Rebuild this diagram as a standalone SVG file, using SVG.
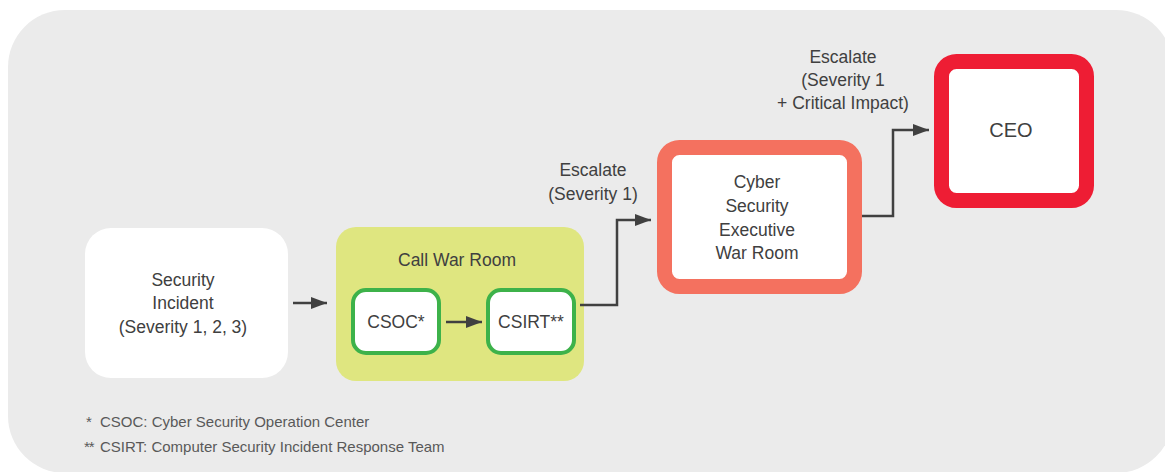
<svg xmlns="http://www.w3.org/2000/svg" width="1165" height="472" viewBox="0 0 1165 472">
<defs>
<style>
.t{font-family:"Liberation Sans",Arial,sans-serif;font-size:17.5px;fill:#404040;text-anchor:middle}
.fn{font-family:"Liberation Sans",Arial,sans-serif;font-size:15px;fill:#595959}
.c{fill:none;stroke:#404040;stroke-width:2.5}
</style>
<marker id="ah" markerUnits="userSpaceOnUse" markerWidth="16" markerHeight="12" refX="16" refY="6" orient="auto">
<path d="M0,0 L16,6 L0,12 z" fill="#404040"/>
</marker>
</defs>
<rect x="8" y="10" width="1165" height="463" rx="57" fill="#ebebeb"/>
<g id="security-incident">
<rect x="85" y="228" width="203" height="150" rx="26" fill="#ffffff"/>
<text class="t" x="183" y="286">Security</text>
<text class="t" x="183" y="309">Incident</text>
<text class="t" x="183" y="333">(Severity 1, 2, 3)</text>
</g>
<g id="call-war-room">
<rect x="336" y="227" width="248" height="154" rx="20" fill="#dfe680"/>
<text class="t" x="457" y="266">Call War Room</text>
</g>
<g id="csoc">
<rect x="353" y="290" width="86" height="63" rx="13" fill="#ffffff" stroke="#3db24a" stroke-width="4"/>
<text class="t" x="396" y="328">CSOC*</text>
</g>
<g id="csirt">
<rect x="488" y="290" width="86" height="63" rx="13" fill="#ffffff" stroke="#3db24a" stroke-width="4"/>
<text class="t" x="531" y="328">CSIRT**</text>
</g>
<g id="exec-war-room">
<rect x="664.5" y="147.5" width="190" height="139" rx="15" fill="#ffffff" stroke="#f4715f" stroke-width="15"/>
<text class="t" x="757" y="188">Cyber</text>
<text class="t" x="757" y="212">Security</text>
<text class="t" x="757" y="236">Executive</text>
<text class="t" x="757" y="259">War Room</text>
</g>
<g id="ceo">
<rect x="941.5" y="61.5" width="145" height="139" rx="15" fill="#ffffff" stroke="#ee1d34" stroke-width="15"/>
<text class="t" x="1011" y="137" style="font-size:20px">CEO</text>
</g>
<g id="connectors">
<path class="c" d="M293,303 H327" marker-end="url(#ah)"/>
<path class="c" d="M446,322 H482" marker-end="url(#ah)"/>
<path class="c" d="M580,305 H617 V220 H651" marker-end="url(#ah)"/>
<path class="c" d="M862,216 H893 V130 H929" marker-end="url(#ah)"/>
</g>
<g id="labels">
<text class="t" x="593" y="176">Escalate</text>
<text class="t" x="593" y="200">(Severity 1)</text>
<text class="t" x="843" y="63">Escalate</text>
<text class="t" x="843" y="86">(Severity 1</text>
<text class="t" x="843" y="109">+ Critical Impact)</text>
</g>
<g id="footnotes">
<text class="fn" x="86" y="427">*</text>
<text class="fn" x="100" y="427">CSOC: Cyber Security Operation Center</text>
<text class="fn" x="84" y="452" style="letter-spacing:-1px">**</text>
<text class="fn" x="100" y="452">CSIRT: Computer Security Incident Response Team</text>
</g>
</svg>
